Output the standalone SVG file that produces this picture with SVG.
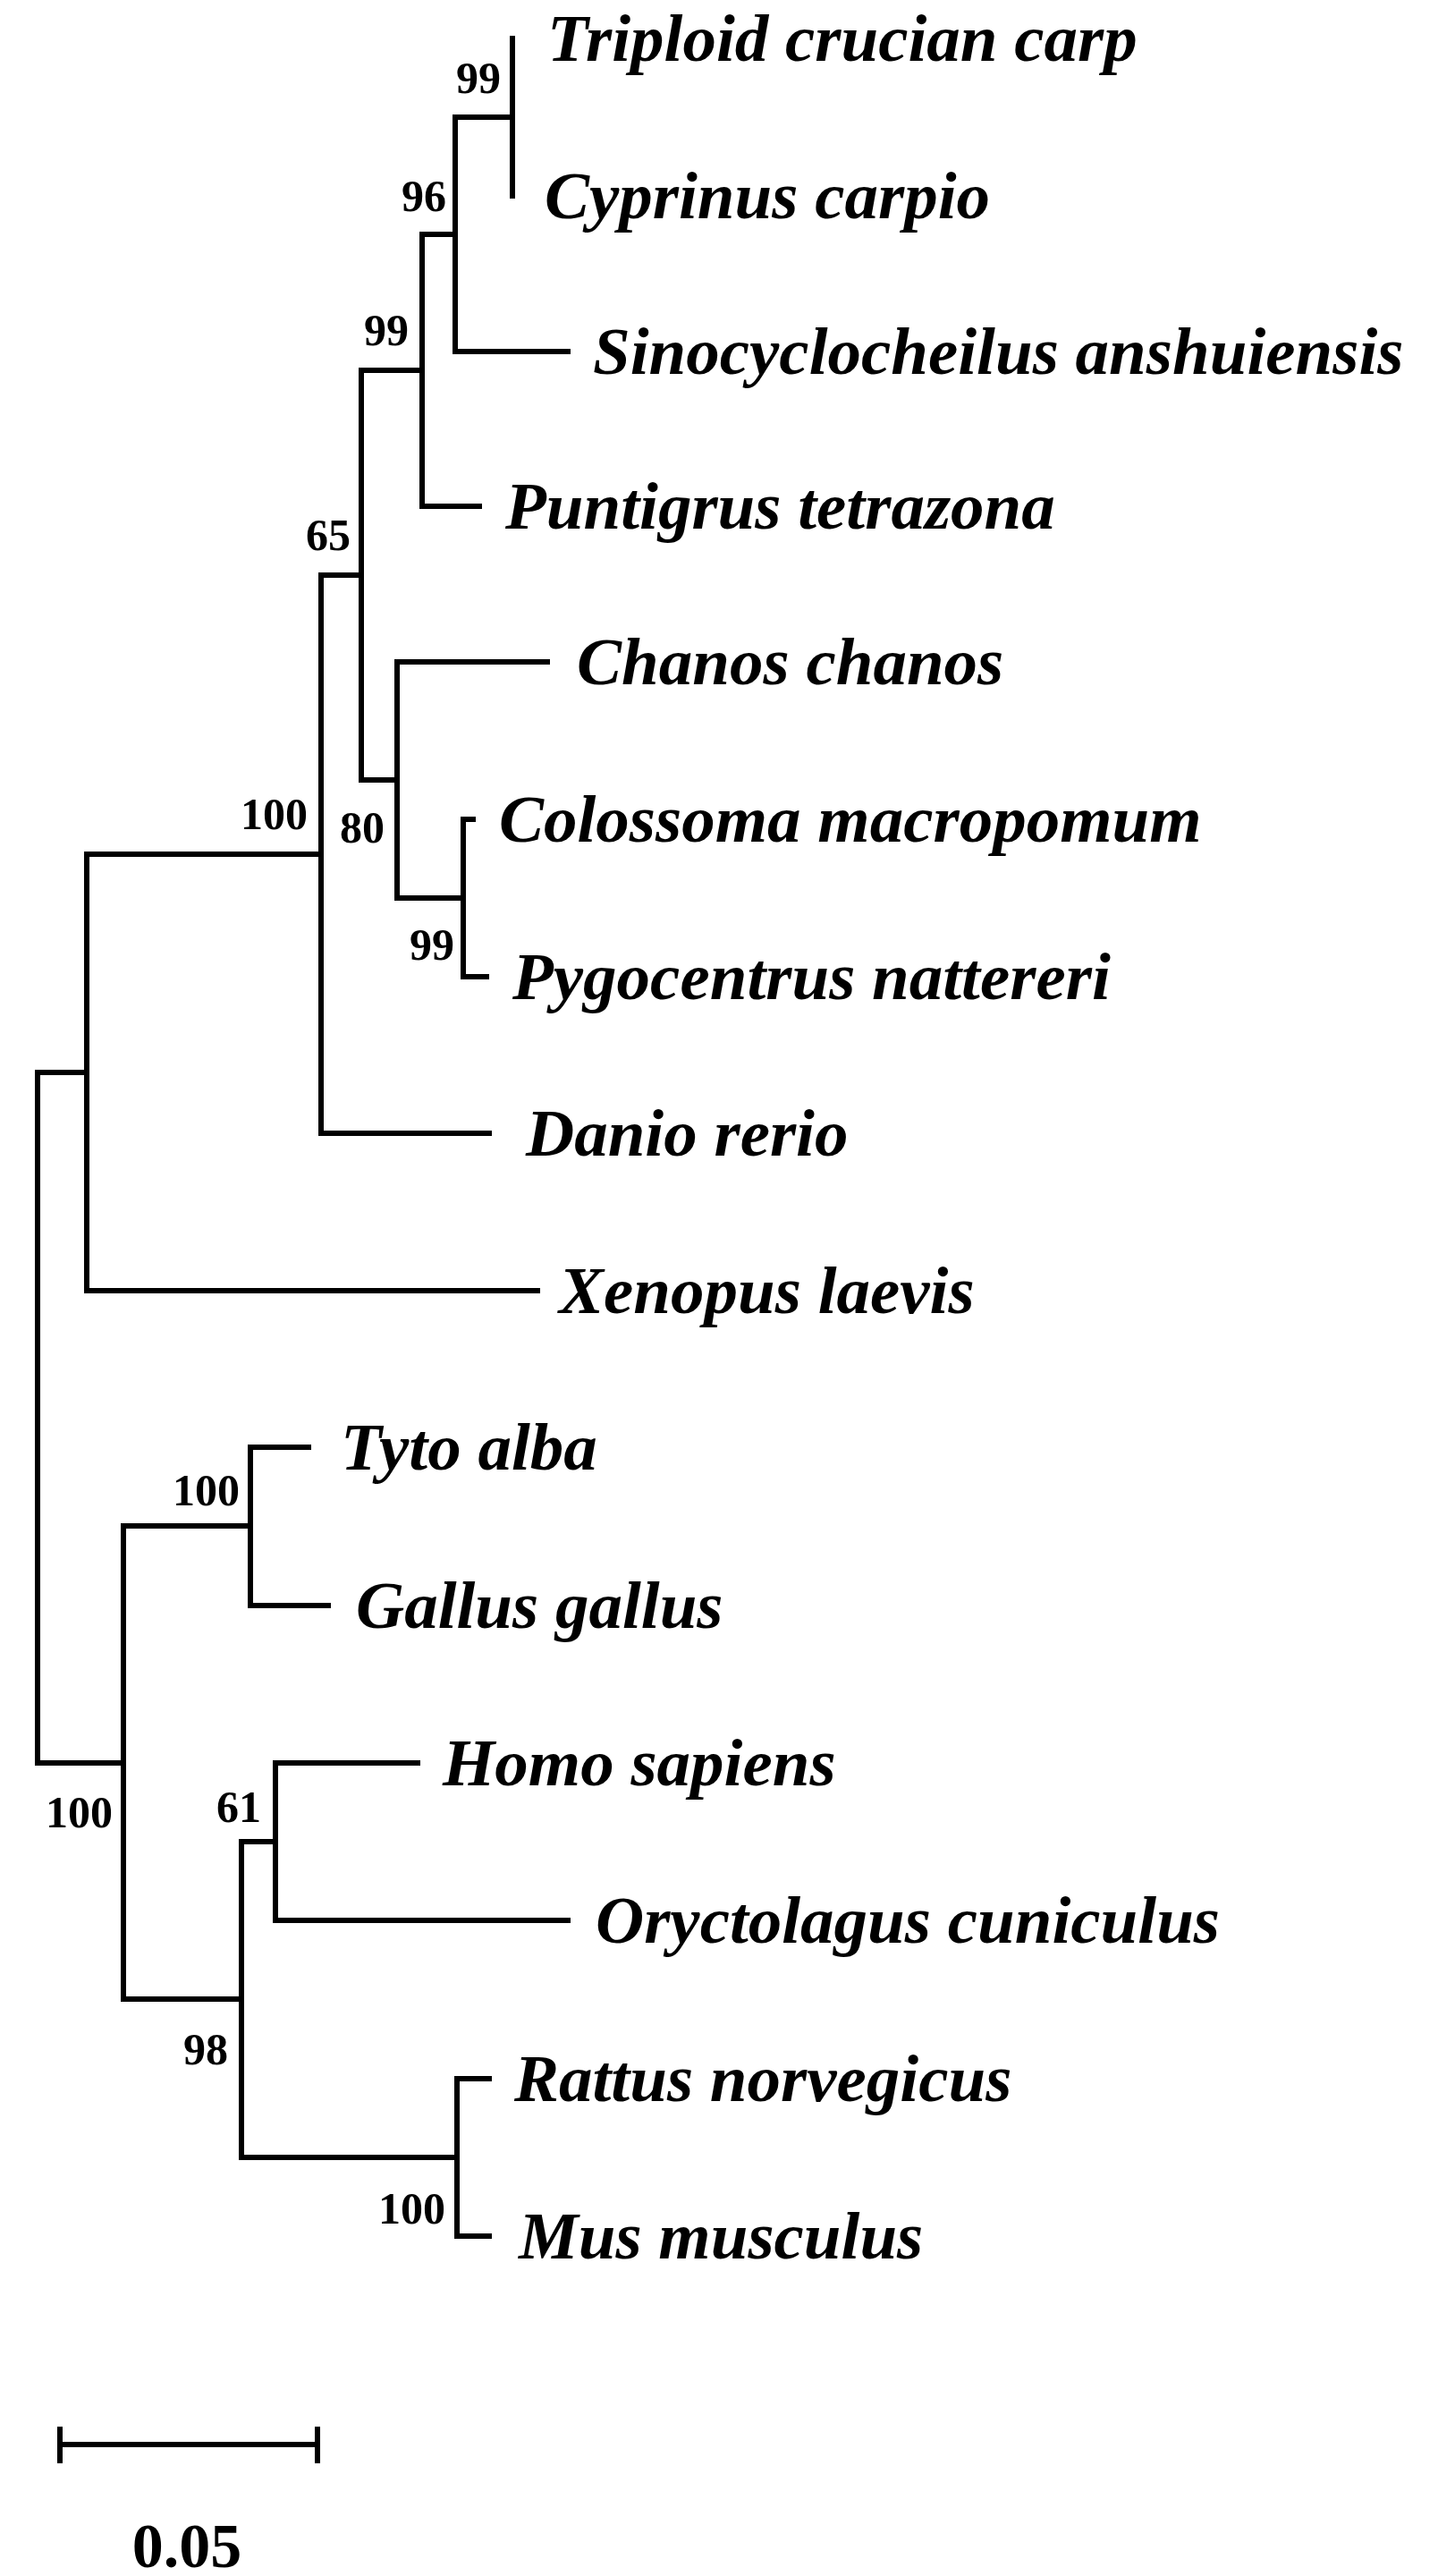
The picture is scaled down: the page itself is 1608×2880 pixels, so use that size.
<svg xmlns="http://www.w3.org/2000/svg" width="1608" height="2880" viewBox="0 0 1608 2880">
<style>
.b{fill:none;stroke:#000;stroke-width:6;stroke-linecap:square}
.t{font-family:"Liberation Serif",serif;font-weight:bold;font-style:italic;font-size:75px;fill:#000}
.s{font-family:"Liberation Serif",serif;font-weight:bold;font-size:50px;fill:#000;text-anchor:end}
</style>
<rect width="1608" height="2880" fill="#fff"/>
<g id="connectors">
<path class="b" d="M509,131H573M573,43V219"/>
<path class="b" d="M472,262H509M509,131V393H635"/>
<path class="b" d="M404,414H472M472,262V566H536"/>
<path class="b" d="M444,1004H518M518,916V1092M518,916H529M518,1092H544"/>
<path class="b" d="M404,872H444M444,740V1004M444,740H612"/>
<path class="b" d="M359,643H404M404,414V872"/>
<path class="b" d="M97,955H359M359,643V1267H547"/>
<path class="b" d="M42,1199H97M97,955V1443H601"/>
<path class="b" d="M280,1618H345M280,1795H367M280,1618V1795M138,1706H280"/>
<path class="b" d="M308,1971H467M308,2147H635M308,1971V2147M270,2059H308"/>
<path class="b" d="M511,2324H547M511,2500H547M511,2324V2500M270,2412H511"/>
<path class="b" d="M270,2059V2412M138,2235H270"/>
<path class="b" d="M138,1706V2235M42,1971H138M42,1199V1971"/>
<path class="b" d="M67,2733H355M67,2716V2751M355,2716V2751"/>
</g>
<g id="labels">
<text class="t" x="612" y="68">Triploid crucian carp</text>
<text class="t" x="609" y="244">Cyprinus carpio</text>
<text class="t" x="663" y="418">Sinocyclocheilus anshuiensis</text>
<text class="t" x="565" y="591">Puntigrus tetrazona</text>
<text class="t" x="645" y="765">Chanos chanos</text>
<text class="t" x="558" y="941">Colossoma macropomum</text>
<text class="t" x="573" y="1117">Pygocentrus nattereri</text>
<text class="t" x="588" y="1292">Danio rerio</text>
<text class="t" x="625" y="1468">Xenopus laevis</text>
<text class="t" x="381" y="1643">Tyto alba</text>
<text class="t" x="398" y="1820">Gallus gallus</text>
<text class="t" x="495" y="1996">Homo sapiens</text>
<text class="t" x="666" y="2172">Oryctolagus cuniculus</text>
<text class="t" x="575" y="2349">Rattus norvegicus</text>
<text class="t" x="580" y="2525">Mus musculus</text>
</g>
<g id="support">
<text class="s" x="560" y="104">99</text>
<text class="s" x="499" y="236">96</text>
<text class="s" x="457" y="386">99</text>
<text class="s" x="392" y="615">65</text>
<text class="s" x="344" y="927">100</text>
<text class="s" x="430" y="942">80</text>
<text class="s" x="508" y="1073">99</text>
<text class="s" x="268" y="1683">100</text>
<text class="s" x="126" y="2043">100</text>
<text class="s" x="292" y="2037">61</text>
<text class="s" x="255" y="2308">98</text>
<text class="s" x="498" y="2486">100</text>
<text x="209" y="2870" style="font-family:'Liberation Serif',serif;font-weight:bold;font-size:70px;text-anchor:middle">0.05</text>
</g>
</svg>
